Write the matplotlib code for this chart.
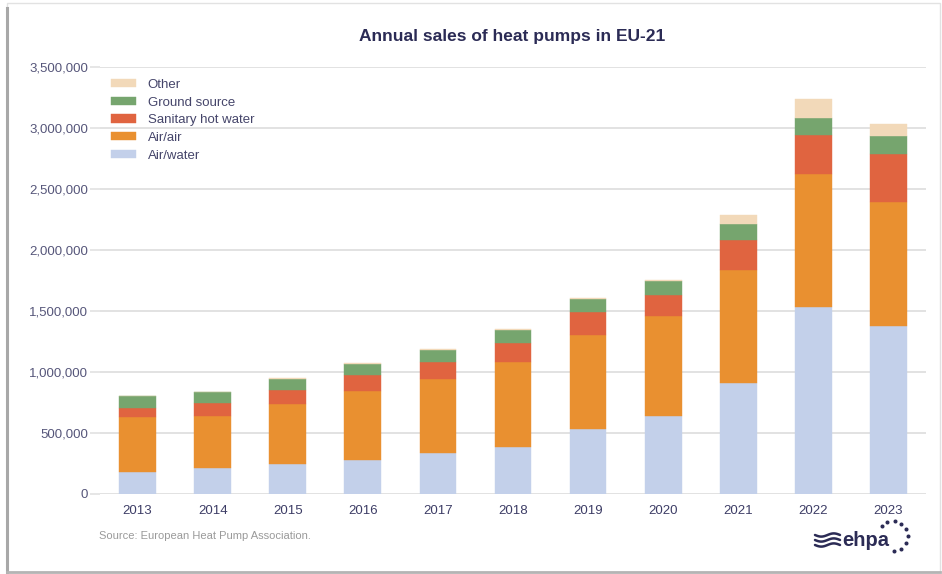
import matplotlib
matplotlib.use("Agg")
import matplotlib.pyplot as plt
from matplotlib.patches import Rectangle
from matplotlib.ticker import FuncFormatter
import numpy as np

plt.rcParams['font.family'] = ['Liberation Sans', 'DejaVu Sans']

years = ["2013", "2014", "2015", "2016", "2017", "2018", "2019", "2020", "2021", "2022", "2023"]
air_water = [183000, 211000, 248000, 276000, 336000, 388000, 535000, 642000, 907000, 1533000, 1377000]
air_air = [446000, 426000, 490000, 571000, 609000, 692000, 766000, 815000, 929000, 1090000, 1014000]
sanitary = [78000, 111000, 117000, 128000, 139000, 160000, 188000, 174000, 249000, 322000, 396000]
ground = [96000, 86000, 88000, 91000, 96000, 104000, 109000, 115000, 128000, 137000, 147000]
other = [3000, 3000, 4000, 4000, 9000, 5000, 6000, 6000, 71000, 158000, 101000]

series = [
    ("Air/water", air_water, "#c3d0ea"),
    ("Air/air", air_air, "#e99030"),
    ("Sanitary hot water", sanitary, "#e06440"),
    ("Ground source", ground, "#76a56e"),
    ("Other", other, "#f2d9b9"),
]

W, H = 942, 574
fig = plt.figure(figsize=(W / 100, H / 100), dpi=100)
fig.patch.set_facecolor("white")

# card frame
fig.patches.append(Rectangle((7 / W, 2 / H), (W - 9) / W, (H - 5) / H, transform=fig.transFigure,
                             facecolor="white", edgecolor="#e2e2e2", linewidth=1.0, zorder=-5))
fig.add_artist(plt.Line2D([7 / W, 7 / W], [2 / H, 1 - 8 / H], transform=fig.transFigure,
                          color="#a8a8a8", linewidth=2.2))
fig.add_artist(plt.Line2D([7 / W, 1 - 2 / W], [2 / H, 2 / H], transform=fig.transFigure,
                          color="#b4b4b4", linewidth=2.0))

ax = fig.add_axes([100 / W, 1 - 494 / H, 826 / W, (494 - 67) / H])
x = np.arange(len(years))
bottom = np.zeros(len(years))
handles = []
for name, vals, col in series:
    v = np.array(vals, dtype=float)
    b = ax.bar(x, v, bottom=bottom, width=0.49, color=col, label=name, zorder=3,
               edgecolor=col, linewidth=0.3)
    handles.append(b)
    bottom += v

ax.set_xlim(-0.5, len(years) - 0.5)
ax.set_ylim(0, 3500000)
ax.set_yticks(np.arange(0, 3500001, 500000))
ax.yaxis.set_major_formatter(FuncFormatter(lambda v, p: f"{int(v):,}"))
ax.set_xticks(x)
ax.set_xticklabels(years)
ax.grid(axis="y", color="#e2e2e2", linewidth=1.4, zorder=0)
for s in ax.spines.values():
    s.set_visible(False)
ax.tick_params(axis="y", length=7, width=1.2, color="#e2e2e2", pad=1.5, labelsize=9.5,
               labelcolor="#56567a")
ax.tick_params(axis="x", length=0, pad=8, labelsize=9.5, labelcolor="#3d3d66")

leg = ax.legend(handles[::-1], [s[0] for s in series][::-1], loc="upper left",
                bbox_to_anchor=(0.0, 0.997), frameon=False, fontsize=9.5,
                handlelength=1.95, handleheight=0.6, labelspacing=0.43, handletextpad=0.85,
                borderaxespad=0.4)
for t in leg.get_texts():
    t.set_color("#45456a")

fig.text(512 / W, 1 - 36 / H, "Annual sales of heat pumps in EU-21", ha="center", va="center",
         fontsize=12.5, fontweight="bold", color="#2b2b55")
fig.text(99 / W, 1 - 536 / H, "Source: European Heat Pump Association.", ha="left", va="center",
         fontsize=8, color="#9a9a9a")

# ehpa logo
wx = np.linspace(815, 840, 40)
for k, yy in enumerate([535, 540, 545]):
    wy = yy + 1.6 * np.sin((wx - 815) / 25 * 2 * np.pi)
    fig.add_artist(plt.Line2D(wx / W, 1 - wy / H, transform=fig.transFigure,
                              color="#2b2b55", linewidth=1.8, solid_capstyle="round"))
fig.text(842 / W, 1 - 540 / H, "ehpa", ha="left", va="center", fontsize=14.5, color="#2b2b55",
         fontweight="bold")
cx, cy, r = 893, 536, 15
for ang in np.linspace(-85, 140, 9):
    a = np.deg2rad(ang)
    fig.add_artist(plt.Line2D([(cx + r * np.cos(a)) / W], [1 - (cy - r * np.sin(a)) / H],
                              transform=fig.transFigure, marker="o", markersize=1.9,
                              color="#2b2b55", linestyle="none"))

fig.savefig("out.png", dpi=100)
